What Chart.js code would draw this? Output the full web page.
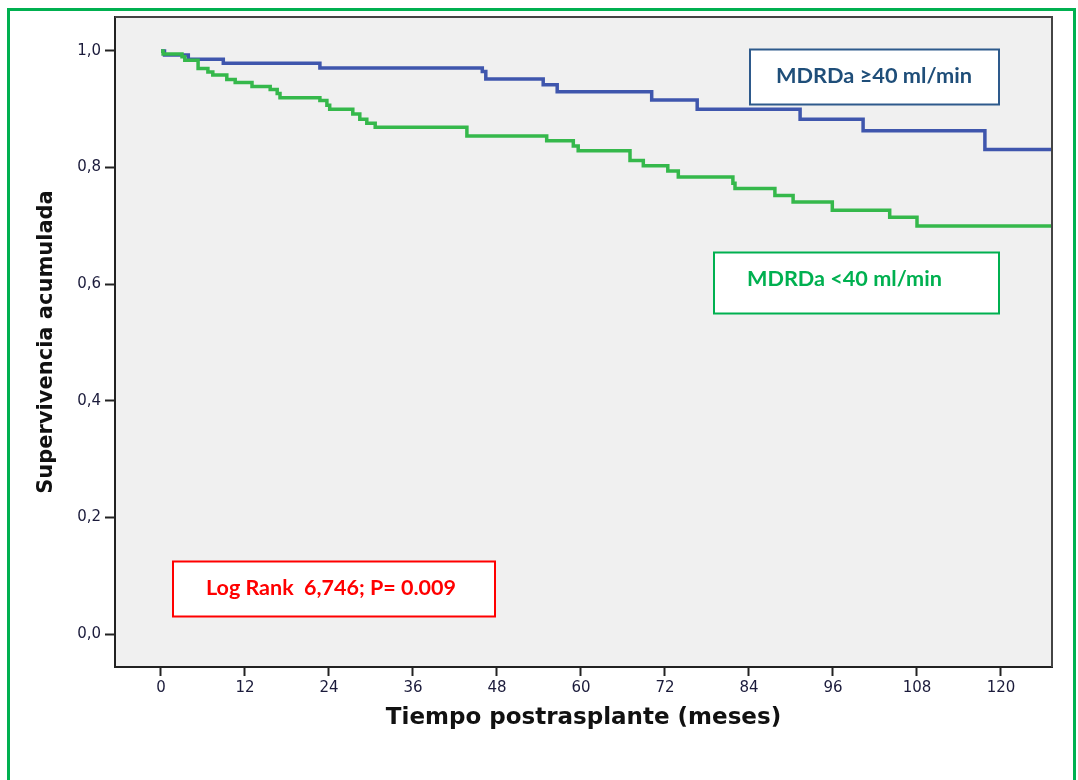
<!DOCTYPE html>
<html>
<head>
<meta charset="utf-8">
<script src="https://cdn.jsdelivr.net/npm/chart.js@4/dist/chart.umd.min.js"></script>
<style>
  html, body { margin: 0; padding: 0; background: #fff; }
  #wrap { width: 1078px; height: 780px; position: relative; }
</style>
</head>
<body>
<div id="wrap"><canvas id="c" width="1078" height="780"></canvas></div>
<script>
// ---- Data ----
const xTicks = [0, 12, 24, 36, 48, 60, 72, 84, 96, 108, 120];
const yTicks = [0, 0.2, 0.4, 0.6, 0.8, 1.0];

const lowTimes = [0, 0.3, 3.0, 3.4, 5.3, 6.7, 7.4, 9.4, 10.6, 13.0, 15.6, 16.6, 17.0, 22.7, 23.7, 24.1, 27.4, 28.4, 29.4, 30.6, 43.7, 55.1, 58.9, 59.6, 67.0, 68.9, 72.4, 73.9, 81.7, 82.0, 87.7, 90.3, 95.9, 104.1, 108.0, 127.3];
const lowSurv  = [1.000, 0.995, 0.990, 0.984, 0.970, 0.964, 0.959, 0.951, 0.946, 0.939, 0.934, 0.927, 0.920, 0.915, 0.907, 0.900, 0.892, 0.883, 0.876, 0.869, 0.854, 0.846, 0.837, 0.829, 0.812, 0.803, 0.794, 0.784, 0.773, 0.764, 0.752, 0.741, 0.727, 0.715, 0.700, 0.700];

const highTimes = [0, 0.5, 3.9, 8.9, 22.7, 45.9, 46.4, 54.6, 56.6, 70.1, 76.6, 91.3, 100.3, 117.7, 127.3];
const highSurv  = [1.000, 0.993, 0.986, 0.979, 0.971, 0.965, 0.952, 0.942, 0.930, 0.916, 0.900, 0.883, 0.863, 0.831, 0.831];

const labelHigh = 'MDRDa \u226540 ml/min';
const labelLow = 'MDRDa <40 ml/min';
const logRankText = 'Log Rank  6,746; P= 0.009';
const xTitle = 'Tiempo postrasplante (meses)';
const yTitle = 'Supervivencia acumulada';

const toPoints = (t, s) => t.map((v, i) => ({ x: v, y: s[i] }));

function fitFontSize(ctx, text, family, targetW, base) {
  ctx.font = 'bold ' + base + 'px ' + family;
  const w = ctx.measureText(text).width;
  return base * targetW / w;
}

function drawBox(ctx, x, y, w, h, stroke, lw, text, color, textLeft, textW, textCy) {
  ctx.save();
  ctx.fillStyle = '#ffffff';
  ctx.fillRect(x, y, w, h);
  ctx.lineWidth = lw;
  ctx.strokeStyle = stroke;
  ctx.strokeRect(x, y, w, h);
  const fam = 'Lato, "Open Sans", sans-serif';
  const size = fitFontSize(ctx, text, fam, textW, 20);
  ctx.font = 'bold ' + size.toFixed(2) + 'px ' + fam;
  ctx.fillStyle = color;
  ctx.textAlign = 'left';
  ctx.textBaseline = 'middle';
  ctx.fillText(text, textLeft, textCy);
  ctx.restore();
}

const decor = {
  id: 'decor',
  beforeDraw(chart) {
    const { ctx, chartArea: { left, top, right, bottom } } = chart;
    ctx.save();
    ctx.fillStyle = '#ffffff';
    ctx.fillRect(0, 0, chart.width, chart.height);
    ctx.fillStyle = '#f0f0f0';
    ctx.fillRect(left, top, right - left, bottom - top);
    ctx.restore();
  },
  afterDraw(chart) {
    const { ctx, chartArea: { left, top, right, bottom } } = chart;
    ctx.save();
    // plot frame top/right
    ctx.strokeStyle = '#444';
    ctx.lineWidth = 2;
    ctx.beginPath();
    ctx.moveTo(left, top);
    ctx.lineTo(right, top);
    ctx.lineTo(right, bottom);
    ctx.stroke();
    // outer green frame
    ctx.strokeStyle = '#00b050';
    ctx.lineWidth = 3;
    ctx.strokeRect(8.5, 9.5, 1066, 800);
    ctx.restore();
    drawBox(ctx, 750, 49.5, 249, 55, '#2e5a8c', 2, labelHigh, '#1f4e79', 776, 196, 76);
    drawBox(ctx, 714, 252.5, 285, 61, '#00b050', 2, labelLow, '#00b050', 747, 195, 279);
    drawBox(ctx, 173, 561.5, 322, 55, '#ff0000', 2, logRankText, '#ff0000', 206, 250, 588);
  }
};

new Chart(document.getElementById('c'), {
  type: 'line',
  data: {
    datasets: [
      {
        label: labelLow,
        data: toPoints(lowTimes, lowSurv),
        borderColor: '#35b84b',
        borderWidth: 3.5,
        pointRadius: 0,
        stepped: 'before',
        fill: false
      },
      {
        label: labelHigh,
        data: toPoints(highTimes, highSurv),
        borderColor: '#3f56ad',
        borderWidth: 3.5,
        pointRadius: 0,
        stepped: 'before',
        fill: false
      }
    ]
  },
  options: {
    responsive: false,
    animation: false,
    devicePixelRatio: 1,
    layout: { padding: { left: 0, right: 26, top: 17, bottom: 0 } },
    plugins: { legend: { display: false }, tooltip: { enabled: false } },
    scales: {
      x: {
        type: 'linear',
        min: -6.571,
        max: 127.286,
        afterBuildTicks: (axis) => { axis.ticks = xTicks.map(v => ({ value: v })); },
        afterFit: (scale) => { scale.height = 113; },
        grid: { drawOnChartArea: false, drawTicks: true, tickLength: 9, tickColor: '#222', tickWidth: 2 },
        border: { display: true, color: '#222', width: 2 },
        ticks: {
          autoSkip: false,
          maxRotation: 0,
          padding: 3,
          color: '#1b1b3b',
          font: { family: 'DejaVu Sans', size: 15 },
          callback: (v) => String(v)
        },
        title: {
          display: true,
          text: xTitle,
          color: '#111',
          font: { family: 'DejaVu Sans', size: 23, weight: 'bold' },
          padding: { top: 0, bottom: 48 }
        }
      },
      y: {
        type: 'linear',
        min: -0.0566,
        max: 1.0583,
        afterBuildTicks: (axis) => { axis.ticks = yTicks.map(v => ({ value: v })); },
        afterFit: (scale) => { scale.width = 115; },
        grid: { drawOnChartArea: false, drawTicks: true, tickLength: 10, tickColor: '#222', tickWidth: 2 },
        border: { display: true, color: '#222', width: 2 },
        ticks: {
          autoSkip: false,
          padding: 4,
          color: '#1b1b3b',
          font: { family: 'DejaVu Sans', size: 15 },
          callback: (v) => Number(v).toFixed(1).replace('.', ',')
        },
        title: {
          display: true,
          text: yTitle,
          color: '#111',
          font: { family: 'DejaVu Sans', size: 21, weight: 'bold' },
          padding: { top: 34, bottom: 0 }
        }
      }
    }
  },
  plugins: [decor]
});
</script>
</body>
</html>
